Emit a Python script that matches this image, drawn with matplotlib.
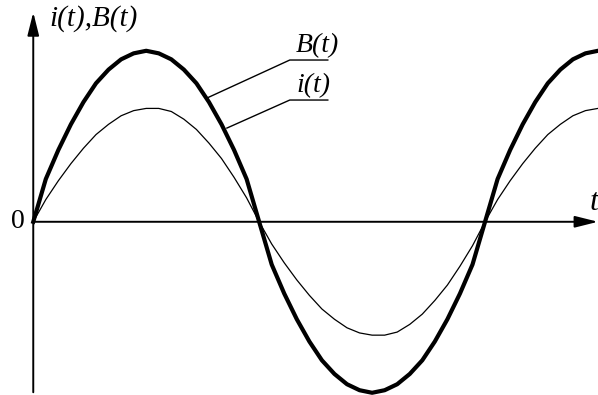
import matplotlib.pyplot as plt
import numpy as np

# phase in degrees (B peak = 1)
t_deg = list(range(0, 451, 10))
B_vals = [0, 0.25, 0.42, 0.57, 0.70, 0.81, 0.89, 0.95, 0.985, 1.0,
          0.985, 0.95, 0.89, 0.81, 0.70, 0.57, 0.42, 0.25, 0,
          -0.25, -0.42, -0.57, -0.70, -0.81, -0.89, -0.95, -0.985, -1.0,
          -0.985, -0.95, -0.89, -0.81, -0.70, -0.57, -0.42, -0.25, 0,
          0.25, 0.42, 0.57, 0.70, 0.81, 0.89, 0.95, 0.985, 1.0]
i_vals = [0, 0.13, 0.24, 0.34, 0.43, 0.51, 0.57, 0.62, 0.65, 0.663,
          0.663, 0.645, 0.60, 0.54, 0.46, 0.37, 0.26, 0.14, 0,
          -0.13, -0.24, -0.34, -0.43, -0.51, -0.57, -0.62, -0.65, -0.663,
          -0.663, -0.645, -0.60, -0.54, -0.46, -0.37, -0.26, -0.14, 0,
          0.13, 0.24, 0.34, 0.43, 0.51, 0.57, 0.62, 0.65, 0.663]

serif = ['Liberation Serif', 'DejaVu Serif']

fig = plt.figure(figsize=(5.98, 3.95), dpi=100)
ax = fig.add_axes([0, 0, 1, 1])
ax.set_xlim(-26.5, 450)
ax.set_ylim(-1.013, 1.297)
ax.axis('off')

ax.plot(t_deg, B_vals, color='black', lw=3.0, solid_joinstyle='round')
ax.plot(t_deg, i_vals, color='black', lw=0.9)

# axes with arrow heads
arrow = dict(arrowstyle='-|>,head_length=1.4,head_width=0.35', color='black',
             lw=1.4, mutation_scale=10, shrinkA=0, shrinkB=0)
ax.annotate('', xy=(0, 1.225), xytext=(0, -0.997), arrowprops=arrow)
ax.annotate('', xy=(450, 0), xytext=(0, 0), arrowprops=arrow)

# leader lines to the curve labels
ax.plot([138.2, 204.4, 234.7], [0.723, 0.946, 0.946], color='black', lw=1.0)
ax.plot([154.3, 204.4, 234.7], [0.548, 0.712, 0.712], color='black', lw=1.0)

ax.text(226.5, 0.96, 'B(t)', family=serif, style='italic', fontsize=20,
        ha='center', va='bottom')
ax.text(223.5, 0.725, 'i(t)', family=serif, style='italic', fontsize=20,
        ha='center', va='bottom')
ax.text(12.5, 1.19, 'i(t),B(t)', family=serif, style='italic', fontsize=21,
        ha='left', va='center')
ax.text(-12, 0.0, '0', family=serif, fontsize=20, ha='center', va='center')
ax.text(443, 0.03, 't', family=serif, style='italic', fontsize=23,
        ha='left', va='bottom')

fig.savefig('out.png', dpi=100)
